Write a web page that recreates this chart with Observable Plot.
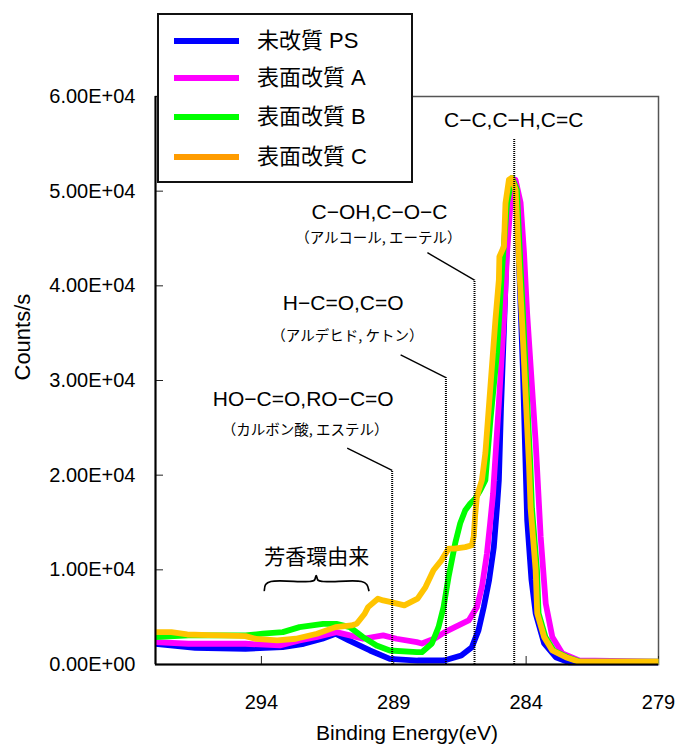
<!DOCTYPE html>
<html><head><meta charset="utf-8">
<script src="https://cdn.jsdelivr.net/npm/d3@7"></script>
<script src="https://cdn.jsdelivr.net/npm/@observablehq/plot@0.6"></script>
<style>
body{margin:0;background:#fff;}
#wrap{position:relative;width:677px;height:749px;}
#legend{position:absolute;left:157px;top:13px;width:252px;height:166px;border:2px solid #111;background:#fff;font-family:"Liberation Sans","Noto Sans CJK JP",sans-serif;}
.row{position:absolute;left:0;height:0;width:100%;}
.sw{position:absolute;left:15px;width:65px;height:6px;top:-3px;}
.lab{position:absolute;left:98px;top:-15px;font-size:22px;line-height:30px;white-space:nowrap;color:#000;}
</style></head>
<body>
<div id="wrap"><div id="legend"></div></div>
<script>
// ---- series ----
const seriesNames = ["未改質 PS", "表面改質 A", "表面改質 B", "表面改質 C"];
const seriesColors = ["#0000ff", "#ff00ff", "#00ff00", "#ffc400"];
const legendColors = ["#0000ff", "#ff00ff", "#00ff00", "#ff9c00"];

const psEV = [298.0,296.5,294.6,293.2,292.4,291.7,291.2,290.7,289.9,289.15,288.1,287.1,286.45,286.05,285.8,285.6,285.4,285.22,285.1,285.03,284.95,284.84,284.72,284.6,284.49,284.38,284.25,284.12,284.03,283.96,283.8,283.64,283.32,282.88,282.38,279.0];
const psCounts = [2190,1770,1660,1830,2190,2720,3250,2540,1480,600,420,420,950,1830,3600,6060,8890,12410,16640,19470,27000,35300,45000,50000,51300,50000,41000,31000,22000,15240,9000,5400,2220,770,240,240];

const aEV = [298.0,296.75,294.6,293.3,292.56,291.93,291.17,290.66,290.16,289.4,288.9,288.13,287.94,287.45,287.07,286.69,286.17,285.86,285.67,285.48,285.36,285.25,285.03,284.84,284.72,284.59,284.40,284.21,284.08,283.96,283.83,283.64,283.45,283.26,283.01,282.63,282.0,279.0];
const aCounts = [2360,2190,2190,2010,2540,2890,3420,3070,2720,3070,2720,2360,2220,2750,3420,3950,4650,6060,8180,11740,14920,18000,27600,36400,43500,48800,51200,48800,43500,37000,31500,23500,13470,6450,2890,1160,420,300];

const bEV = [298.0,296.75,294.6,293.95,293.19,292.56,291.67,291.17,290.66,290.16,289.65,289.15,288.13,287.94,287.56,287.31,287.12,286.93,286.68,286.49,286.30,286.11,285.92,285.73,285.54,285.35,285.10,284.91,284.72,284.53,284.35,284.22,284.10,283.97,283.84,283.78,283.59,283.53,283.27,282.96,282.45,281.95,279.0];
const bCounts = [2890,3070,3070,3250,3420,3950,4300,4300,3950,2890,2010,1480,1300,1300,2220,3950,6060,9240,12800,14920,16290,17000,17530,18410,19470,25800,32900,41690,48770,51390,50150,42500,36000,28500,21000,16500,9950,5400,2890,1480,770,300,300];

const cEV = [298.0,297.4,296.8,296.0,295.5,294.6,294.2,293.4,292.7,291.9,291.2,290.6,290.4,290.1,289.97,289.6,289.4,289.1,288.6,288.1,287.8,287.5,287.2,286.93,286.7,286.3,286.05,285.98,285.92,285.86,285.79,285.67,285.54,285.35,285.16,285.03,285.01,284.84,284.78,284.65,284.55,284.40,284.27,284.15,284.02,283.89,283.83,283.64,283.58,283.32,283.01,282.5,282.0,279.0];
const cCounts = [3420,3420,3170,3100,3070,3000,2700,2540,2720,3250,3950,4130,4300,5360,6060,6950,6770,6590,6240,6950,8180,9950,11000,12240,12240,12400,12600,13500,15940,17700,18400,19470,22320,29340,36400,40630,43090,44150,48740,51210,51390,50150,42500,36000,28500,21000,16500,9950,5400,2890,1480,770,300,300];

// ---- axes ----
const xTicks = [294, 289, 284, 279];
const yTicks = [0, 10000, 20000, 30000, 40000, 50000, 60000];
const xLabel = "Binding Energy(eV)";
const yLabel = "Counts/s";

// ---- annotations (energy, counts) ----
const peakEV = [284.45, 285.95, 287.03, 289.06];
const peakTop = [55500, 40600, 30300, 20500];
const leaderEV = [null, 287.73, 288.74, 290.76];
const leaderCounts = [null, 43500, 32700, 22850];
const annoLabels = ["C−C,C−H,C=C", "C−OH,C−O−C", "H−C=O,C=O", "HO−C=O,RO−C=O"];
const annoLabelEV = [284.47, 289.54, 290.91, 292.42];
const annoLabelCounts = [57500, 47800, 38200, 28000];
const annoSubs = ["（アルコール, エーテル）", "（アルデヒド, ケトン）", "（カルボン酸, エステル）"];
const annoSubEV = [289.58, 290.75, 292.35];
const annoSubCounts = [45050, 34700, 24750];
const aromaLabel = "芳香環由来";
const aromaEV = 291.91;
const aromaCounts = 11300;
const braceEV = [293.89,293.84,293.64,292.18,292.0,291.93,291.86,291.67,290.22,290.02,289.94];
const braceCounts = [7815,8450,8765,8765,8900,9400,8900,8765,8765,8450,7815];

const FONT = '"Liberation Sans", Arial, "Noto Sans CJK JP", sans-serif';
const JFONT = '"Noto Sans CJK JP", sans-serif';

function fmtE(d) {
  const [m, e] = d.toExponential(2).split("e");
  const n = Math.abs(+e);
  return m.toUpperCase() + "E" + (+e < 0 ? "-" : "+") + String(n).padStart(2, "0");
}

const series = [
  [psEV, psCounts], [aEV, aCounts], [bEV, bCounts], [cEV, cCounts]
].map(([ev, ct], k) => ev.map((e, i) => ({ev: e, counts: ct[i], series: seriesNames[k]})));

const lineMarks = series.map((rows, k) => Plot.line(rows, {
  x: "ev", y: "counts", stroke: seriesColors[k], strokeWidth: 5.8,
  strokeLinejoin: "round", strokeLinecap: "butt"
}));

const idx4 = d3.range(peakEV.length);
const idxL = [1, 2, 3];
const idxS = d3.range(annoSubs.length);
const idxB = d3.range(braceEV.length);

const chart = Plot.plot({
  width: 677, height: 749,
  marginLeft: 155, marginRight: 19, marginTop: 96, marginBottom: 85,
  style: {fontFamily: FONT, fontSize: "20px", background: "white", color: "black"},
  x: {domain: [298, 279]},
  y: {domain: [0, 60000]},
  marks: [
    Plot.frame({stroke: "#555", strokeWidth: 1.5}),
    Plot.axisX({ticks: xTicks, tickSize: -8, tickPadding: 38, label: null, tickFormat: d => String(d), stroke: "#222"}),
    Plot.axisY({ticks: yTicks, tickSize: -8, tickPadding: 28, label: null, tickFormat: fmtE, stroke: "#222"}),
    ...lineMarks,
    Plot.ruleX([298], {stroke: "#000", strokeWidth: 2}),
    Plot.ruleY([0], {stroke: "#000", strokeWidth: 2}),
    Plot.ruleX(idx4, {x: i => peakEV[i], y1: 0, y2: i => peakTop[i], stroke: "#000", strokeWidth: 2, strokeDasharray: "1,1"}),
    Plot.link(idxL, {x1: i => leaderEV[i], y1: i => leaderCounts[i], x2: i => peakEV[i], y2: i => peakTop[i], stroke: "#000", strokeWidth: 1.4}),
    Plot.text(idx4, {x: i => annoLabelEV[i], y: i => annoLabelCounts[i], text: i => annoLabels[i], fontSize: 21, fill: "#000"}),
    Plot.text(idxS, {x: i => annoSubEV[i], y: i => annoSubCounts[i], text: i => annoSubs[i], fontSize: 14.5, fontFamily: JFONT, fill: "#000"}),
    Plot.text([aromaLabel], {x: aromaEV, y: aromaCounts, text: d => d, fontSize: 21, fontFamily: JFONT, fill: "#000"}),
    Plot.line(idxB, {x: i => braceEV[i], y: i => braceCounts[i], curve: "catmull-rom", stroke: "#000", strokeWidth: 1.7}),
    Plot.text([yLabel], {frameAnchor: "left", dx: -133, rotate: -90, text: d => d, fontSize: 22, fill: "#000"}),
    Plot.text([xLabel], {frameAnchor: "bottom", dy: 75, text: d => d, fontSize: 21, fill: "#000"})
  ]
});
document.getElementById("wrap").prepend(chart);

// legend
const legend = document.getElementById("legend");
const rowY = [26, 63, 102, 142];
seriesNames.forEach((name, k) => {
  const row = document.createElement("div");
  row.className = "row";
  row.style.top = rowY[k] + "px";
  const sw = document.createElement("div");
  sw.className = "sw";
  sw.style.background = legendColors[k];
  const lab = document.createElement("div");
  lab.className = "lab";
  lab.textContent = name;
  row.append(sw, lab);
  legend.append(row);
});
</script>
</body></html>
